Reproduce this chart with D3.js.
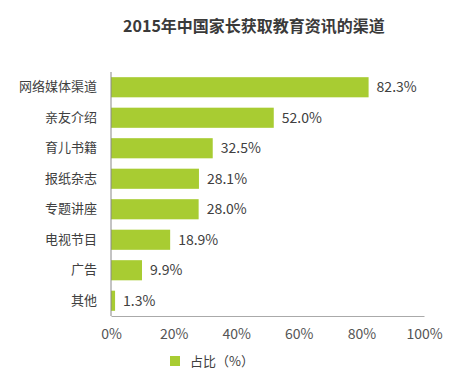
<!DOCTYPE html>
<html>
<head>
<meta charset="utf-8">
<script src="https://cdn.jsdelivr.net/npm/d3@7"></script>
<style>
  body { margin: 0; background: #fff; }
  text { font-family: "Noto Sans CJK SC", "Noto Sans", sans-serif; }
</style>
</head>
<body>
<div id="chart"></div>
<script>
// data
const categories = ["网络媒体渠道", "亲友介绍", "育儿书籍", "报纸杂志", "专题讲座", "电视节目", "广告", "其他"];
const values = [82.3, 52.0, 32.5, 28.1, 28.0, 18.9, 9.9, 1.3];
const xTicks = [0, 20, 40, 60, 80, 100];
const title = "2015年中国家长获取教育资讯的渠道";
const legendLabel = "占比（%）";

const width = 469, height = 374;
const barColor = "#a8cc32";

const svg = d3.select("#chart").append("svg")
  .attr("width", width)
  .attr("height", height);

// scales
const x = d3.scaleLinear().domain([0, 100]).range([111, 424]);
const y = d3.scaleBand().domain(categories).range([72, 316])
  .paddingInner(0.34).paddingOuter(0.17);

// title
svg.append("text")
  .attr("x", 254).attr("y", 32)
  .attr("text-anchor", "middle")
  .attr("font-size", 16).attr("font-weight", "bold")
  .attr("fill", "#3a3a3a")
  .text(title);

// bars
svg.append("g").selectAll("rect")
  .data(values).enter()
  .append("rect")
  .attr("x", x(0))
  .attr("y", (d, i) => y(categories[i]))
  .attr("width", d => x(d) - x(0))
  .attr("height", y.bandwidth())
  .attr("fill", barColor);

// value labels
svg.append("g").selectAll("text")
  .data(values).enter()
  .append("text")
  .attr("x", d => x(d) + 8)
  .attr("y", (d, i) => y(categories[i]) + y.bandwidth() / 2)
  .attr("dy", "0.35em")
  .attr("font-size", 14)
  .attr("fill", "#404040")
  .text(d => d.toFixed(1) + "%");

// y axis
const yAxis = svg.append("g")
  .attr("transform", "translate(" + x(0) + ",0)")
  .call(d3.axisLeft(y).tickSize(0).tickPadding(14));
yAxis.select(".domain").attr("stroke", "#888").attr("d", "M0,72V316");
yAxis.selectAll("text").attr("font-size", 13).attr("fill", "#404040")
  .style("font-family", '"Noto Sans CJK SC", sans-serif');

// x axis
const xAxis = svg.append("g")
  .attr("transform", "translate(0,316)")
  .call(d3.axisBottom(x).tickValues(xTicks).tickSize(0).tickPadding(13)
    .tickFormat(d => d + "%"));
xAxis.select(".domain").attr("stroke", "#aaa");
xAxis.selectAll("text").attr("font-size", 14).attr("fill", "#555")
  .style("font-family", '"Noto Sans CJK SC", sans-serif');

// legend
svg.append("rect")
  .attr("x", 170).attr("y", 356)
  .attr("width", 10).attr("height", 10)
  .attr("fill", barColor);
svg.append("text")
  .attr("x", 190).attr("y", 361)
  .attr("dy", "0.35em")
  .attr("font-size", 13).attr("fill", "#404040")
  .text(legendLabel);
</script>
</body>
</html>
